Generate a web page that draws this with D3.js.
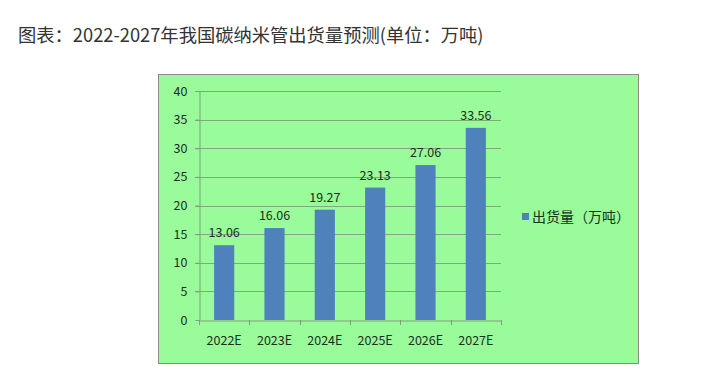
<!DOCTYPE html>
<html>
<head>
<meta charset="utf-8">
<style>
  body { margin: 0; background: #fff; }
  svg text { font-family: "Noto Sans CJK SC", "Noto Sans", sans-serif; }
</style>
</head>
<body>
<svg id="chart" width="709" height="376"></svg>
<script src="https://d3js.org/d3.v7.min.js"></script>
<script>
  // 出货量预测 (万吨)
  const years = ['2022E', '2023E', '2024E', '2025E', '2026E', '2027E']
  const shipments = [13.06, 16.06, 19.27, 23.13, 27.06, 33.56]
  const yTicks = [0, 5, 10, 15, 20, 25, 30, 35, 40]
  const seriesName = '出货量（万吨）'
  const title = '图表：2022-2027年我国碳纳米管出货量预测(单位：万吨)'

  const svg = d3.select('#chart')

  svg.append('text')
     .attr('x', 18)
     .attr('y', 42)
     .attr('font-size', 18.3)
     .attr('fill', '#333')
     .text(title)

  // chart box
  svg.append('rect')
     .attr('x', 158.5)
     .attr('y', 74.5)
     .attr('width', 480)
     .attr('height', 289)
     .attr('fill', '#99fb99')
     .attr('stroke', '#8a8a8a')

  const xScale = d3.scaleBand()
                   .domain(years)
                   .range([199, 501])
                   .paddingInner(0.6)
                   .paddingOuter(0.3)

  const yScale = d3.scaleLinear()
                   .domain([0, 40])
                   .range([320, 91])

  // gridlines
  svg.append('g')
     .selectAll('line')
     .data(yTicks.filter(d => d > 0))
     .join('line')
     .attr('x1', 195)
     .attr('x2', 501)
     .attr('y1', d => Math.round(yScale(d)) + 0.5)
     .attr('y2', d => Math.round(yScale(d)) + 0.5)
     .attr('stroke', '#7fa87f')

  // y axis
  const yAxis = svg.append('g')
     .attr('transform', 'translate(199.5,0)')
     .call(d3.axisLeft(yScale).tickValues(yTicks).tickSize(4).tickPadding(8))
  yAxis.select('.domain').attr('stroke', '#7f9f7f')
  yAxis.selectAll('.tick line').attr('stroke', '#7f9f7f')
  yAxis.selectAll('.tick text')
       .attr('font-size', 12.5)
       .attr('fill', '#1c2e1c')
       .attr('font-family', '"Noto Sans", sans-serif')

  // bars
  svg.selectAll('.bar')
     .data(shipments)
     .join('rect')
     .attr('class', 'bar')
     .attr('x', (d, i) => xScale(years[i]))
     .attr('width', xScale.bandwidth())
     .attr('y', d => yScale(d))
     .attr('height', d => yScale(0) - yScale(d))
     .attr('fill', '#4f81bd')

  // x axis
  const xAxis = svg.append('g')
     .attr('transform', 'translate(0,320.5)')
     .call(d3.axisBottom(xScale).tickSize(0).tickPadding(16))
  xAxis.select('.domain').attr('stroke', '#7f9f7f')
  xAxis.selectAll('.tick text')
       .attr('font-size', 12.5)
       .attr('fill', '#1c2e1c')
       .attr('font-family', '"Noto Sans", sans-serif')

  // category separators below axis
  const step = xScale.step()
  svg.append('g')
     .selectAll('line')
     .data(d3.range(years.length + 1))
     .join('line')
     .attr('x1', i => Math.round(199 + i * step) + 0.5)
     .attr('x2', i => Math.round(199 + i * step) + 0.5)
     .attr('y1', 320)
     .attr('y2', 325)
     .attr('stroke', '#7f9f7f')

  // value labels
  svg.selectAll('.val')
     .data(shipments)
     .join('text')
     .attr('class', 'val')
     .attr('x', (d, i) => xScale(years[i]) + xScale.bandwidth() / 2)
     .attr('y', d => yScale(d) - 8)
     .attr('text-anchor', 'middle')
     .attr('font-size', 12.5)
     .attr('fill', '#1c2e1c')
     .attr('font-family', '"Noto Sans", sans-serif')
     .text(d => d.toFixed(2))

  // legend
  svg.append('rect')
     .attr('x', 522)
     .attr('y', 213)
     .attr('width', 7)
     .attr('height', 7)
     .attr('fill', '#4f81bd')
  svg.append('text')
     .attr('x', 532)
     .attr('y', 222)
     .attr('font-size', 14)
     .attr('fill', '#1c2e1c')
     .text(seriesName)
</script>
</body>
</html>
